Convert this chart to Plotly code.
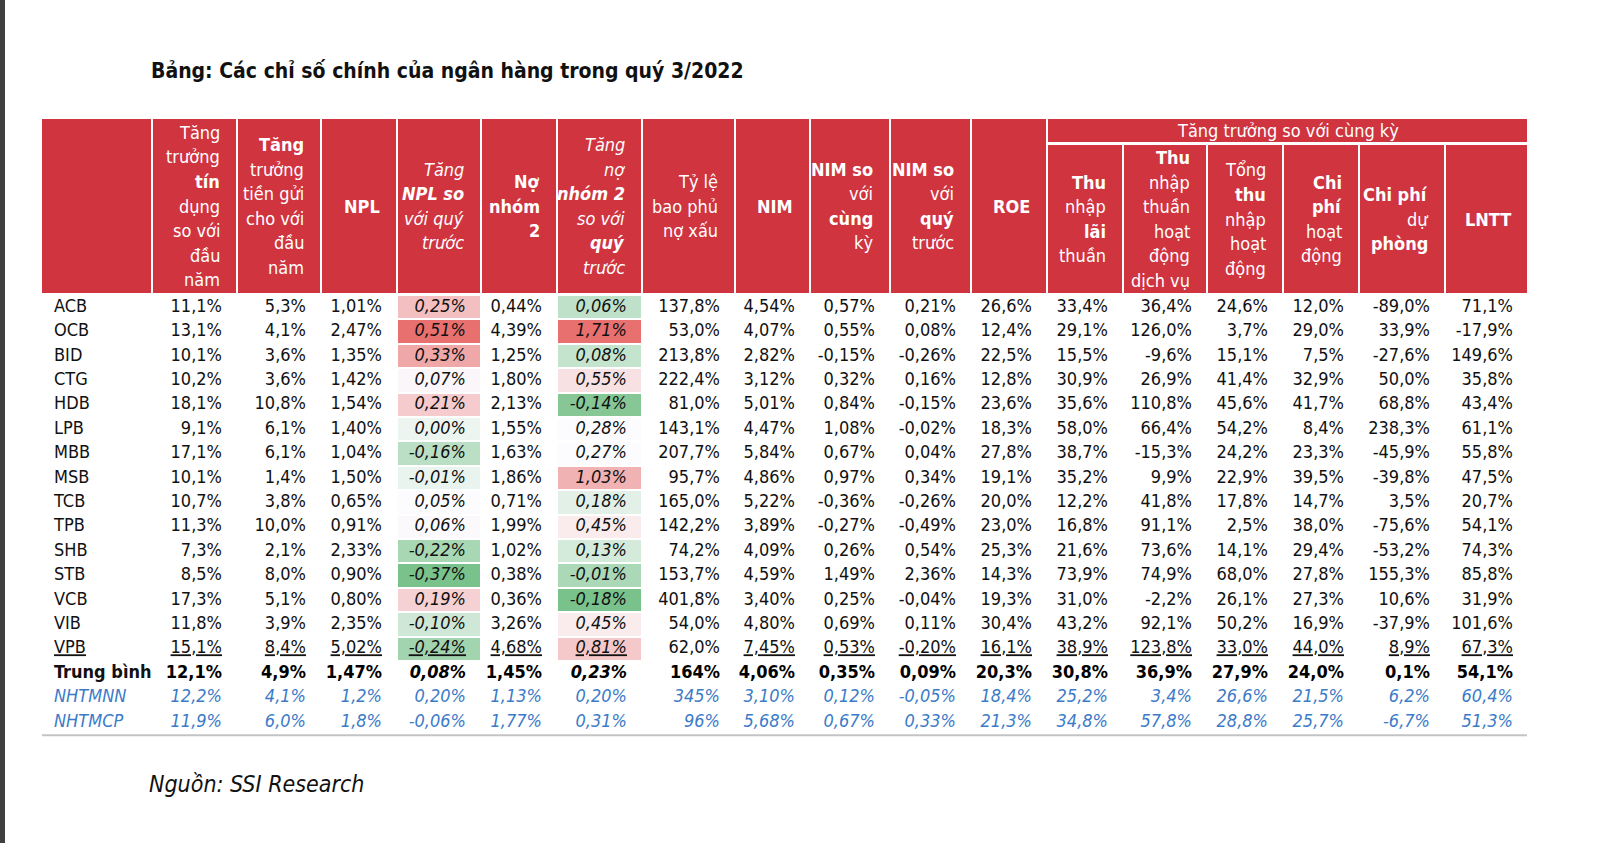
import plotly.graph_objects as go
import numpy as np

# ---------------- DATA ----------------
title = "Bảng: Các chỉ số chính của ngân hàng trong quý 3/2022"
source = "Nguồn: SSI Research"
group_header = "Tăng trưởng so với cùng kỳ"

banks = ["ACB", "OCB", "BID", "CTG", "HDB", "LPB", "MBB", "MSB", "TCB",
         "TPB", "SHB", "STB", "VCB", "VIB", "VPB"]
summary_labels = ["Trung bình", "NHTMNN", "NHTMCP"]

credit_growth = [11.1, 13.1, 10.1, 10.2, 18.1, 9.1, 17.1, 10.1, 10.7, 11.3, 7.3, 8.5, 17.3, 11.8, 15.1]
deposit_growth = [5.3, 4.1, 3.6, 3.6, 10.8, 6.1, 6.1, 1.4, 3.8, 10.0, 2.1, 8.0, 5.1, 3.9, 8.4]
npl = [1.01, 2.47, 1.35, 1.42, 1.54, 1.40, 1.04, 1.50, 0.65, 0.91, 2.33, 0.90, 0.80, 2.35, 5.02]
npl_change = [0.25, 0.51, 0.33, 0.07, 0.21, 0.00, -0.16, -0.01, 0.05, 0.06, -0.22, -0.37, 0.19, -0.10, -0.24]
group2 = [0.44, 4.39, 1.25, 1.80, 2.13, 1.55, 1.63, 1.86, 0.71, 1.99, 1.02, 0.38, 0.36, 3.26, 4.68]
group2_change = [0.06, 1.71, 0.08, 0.55, -0.14, 0.28, 0.27, 1.03, 0.18, 0.45, 0.13, -0.01, -0.18, 0.45, 0.81]
coverage = [137.8, 53.0, 213.8, 222.4, 81.0, 143.1, 207.7, 95.7, 165.0, 142.2, 74.2, 153.7, 401.8, 54.0, 62.0]
nim = [4.54, 4.07, 2.82, 3.12, 5.01, 4.47, 5.84, 4.86, 5.22, 3.89, 4.09, 4.59, 3.40, 4.80, 7.45]
nim_yoy = [0.57, 0.55, -0.15, 0.32, 0.84, 1.08, 0.67, 0.97, -0.36, -0.27, 0.26, 1.49, 0.25, 0.69, 0.53]
nim_qoq = [0.21, 0.08, -0.26, 0.16, -0.15, -0.02, 0.04, 0.34, -0.26, -0.49, 0.54, 2.36, -0.04, 0.11, -0.20]
roe = [26.6, 12.4, 22.5, 12.8, 23.6, 18.3, 27.8, 19.1, 20.0, 23.0, 25.3, 14.3, 19.3, 30.4, 16.1]
nii_growth = [33.4, 29.1, 15.5, 30.9, 35.6, 58.0, 38.7, 35.2, 12.2, 16.8, 21.6, 73.9, 31.0, 43.2, 38.9]
fee_growth = [36.4, 126.0, -9.6, 26.9, 110.8, 66.4, -15.3, 9.9, 41.8, 91.1, 73.6, 74.9, -2.2, 92.1, 123.8]
toi_growth = [24.6, 3.7, 15.1, 41.4, 45.6, 54.2, 24.2, 22.9, 17.8, 2.5, 14.1, 68.0, 26.1, 50.2, 33.0]
opex_growth = [12.0, 29.0, 7.5, 32.9, 41.7, 8.4, 23.3, 39.5, 14.7, 38.0, 29.4, 27.8, 27.3, 16.9, 44.0]
provision_growth = [-89.0, 33.9, -27.6, 50.0, 68.8, 238.3, -45.9, -39.8, 3.5, -75.6, -53.2, 155.3, 10.6, -37.9, 8.9]
pbt_growth = [71.1, -17.9, 149.6, 35.8, 43.4, 61.1, 55.8, 47.5, 20.7, 54.1, 74.3, 85.8, 31.9, 101.6, 67.3]

avg_row = [12.1, 4.9, 1.47, 0.08, 1.45, 0.23, 164, 4.06, 0.35, 0.09, 20.3, 30.8, 36.9, 27.9, 24.0, 0.1, 54.1]
state_row = [12.2, 4.1, 1.2, 0.20, 1.13, 0.20, 345, 3.10, 0.12, -0.05, 18.4, 25.2, 3.4, 26.6, 21.5, 6.2, 60.4]
jsc_row = [11.9, 6.0, 1.8, -0.06, 1.77, 0.31, 96, 5.68, 0.67, 0.33, 21.3, 34.8, 57.8, 28.8, 25.7, -6.7, 51.3]

col_decimals = [1, 1, 2, 2, 2, 2, 1, 2, 2, 2, 1, 1, 1, 1, 1, 1, 1]
summary_decimals = [
    [1, 1, 2, 2, 2, 2, 0, 2, 2, 2, 1, 1, 1, 1, 1, 1, 1],
    [1, 1, 1, 2, 2, 2, 0, 2, 2, 2, 1, 1, 1, 1, 1, 1, 1],
    [1, 1, 1, 2, 2, 2, 0, 2, 2, 2, 1, 1, 1, 1, 1, 1, 1],
]

header_lines = [
    ["Tăng", "trưởng", "<b>tín</b>", "dụng", "so với", "đầu", "năm"],
    ["<b>Tăng</b>", "trưởng", "tiền gửi", "cho với", "đầu", "năm"],
    ["<b>NPL</b>"],
    ["<i>Tăng</i>", "<b><i>NPL so</i></b>", "<i>với quý</i>", "<i>trước</i>"],
    ["<b>Nợ</b>", "<b>nhóm</b>", "<b>2</b>"],
    ["<i>Tăng</i>", "<i>nợ</i>", "<b><i>nhóm 2</i></b>", "<i>so với</i>", "<b><i>quý</i></b>", "<i>trước</i>"],
    ["Tỷ lệ", "bao phủ", "nợ xấu"],
    ["<b>NIM</b>"],
    ["<b>NIM so</b>", "với", "<b>cùng</b>", "kỳ"],
    ["<b>NIM so</b>", "với", "<b>quý</b>", "trước"],
    ["<b>ROE</b>"],
    ["<b>Thu</b>", "nhập", "<b>lãi</b>", "thuần"],
    ["<b>Thu</b>", "nhập", "thuần", "hoạt", "động", "dịch vụ"],
    ["Tổng", "<b>thu</b>", "nhập", "hoạt", "động"],
    ["<b>Chi</b>", "<b>phí</b>", "hoạt", "động"],
    ["<b>Chi phí</b>", "dự", "<b>phòng</b>"],
    ["<b>LNTT</b>"],
]

columns = [credit_growth, deposit_growth, npl, npl_change, group2, group2_change,
           coverage, nim, nim_yoy, nim_qoq, roe, nii_growth, fee_growth,
           toi_growth, opex_growth, provision_growth, pbt_growth]

# ---------------- LAYOUT CONSTANTS ----------------
W, H = 1600, 843
FONT = "'Liberation Sans Narrow', 'DejaVu Sans Condensed', 'Arial Narrow', 'Liberation Sans', sans-serif"
RED = "#CF343F"
BLUE = "#3B7BC8"
edges = [(42, 151), (153, 236), (238, 320), (322, 396), (398, 480), (482, 556),
         (558, 641), (643, 734), (736, 809), (811, 889), (891, 970), (972, 1046),
         (1048, 1122), (1124, 1206), (1208, 1282), (1284, 1358), (1360, 1444), (1446, 1527)]
HEAD_TOP, HEAD_BOT, GROUP_BOT, SUB_TOP = 119, 293, 142, 145
ROW_TOP, ROW_H = 295, 24.4
PAD = 14
LINE_H = 24.6
GROUP_START = 12  # first column index (in edges) under the group header
italic_cols = {3, 5}
no_underline_cols = {6}

n_rows = len(banks) + len(summary_labels)
row_y = [ROW_TOP + ROW_H * (i + 0.5) for i in range(n_rows)]


def fmt(v, d):
    return f"{v:.{d}f}".replace(".", ",") + "%"


fig = go.Figure()

# ----- header shapes -----
shapes = []
for k, (l, r) in enumerate(edges):
    top = SUB_TOP if k >= GROUP_START else HEAD_TOP
    shapes.append(dict(type="rect", xref="x", yref="y", x0=l, x1=r, y0=top, y1=HEAD_BOT,
                       fillcolor=RED, line=dict(width=0), layer="below"))
shapes.append(dict(type="rect", xref="x", yref="y", x0=edges[GROUP_START][0], x1=edges[-1][1],
                   y0=HEAD_TOP, y1=GROUP_BOT, fillcolor=RED, line=dict(width=0), layer="below"))
# bottom rule
shapes.append(dict(type="line", xref="x", yref="y", x0=edges[0][0], x1=edges[-1][1],
                   y0=ROW_TOP + ROW_H * n_rows + 1, y1=ROW_TOP + ROW_H * n_rows + 1,
                   line=dict(color="#C4C4C4", width=2)))
# dark window edge at left
shapes.append(dict(type="rect", xref="paper", yref="paper", x0=0, x1=5 / W, y0=0, y1=1,
                   fillcolor="#3F3F3F", line=dict(width=0)))

# ----- conditional-format heatmap columns -----
for j in sorted(italic_cols):
    vals = np.array(columns[j], dtype=float)
    lo, hi, med = vals.min(), vals.max(), np.median(vals)
    mid = (med - lo) / (hi - lo)
    l, r = edges[j + 1]
    fig.add_trace(go.Heatmap(
        z=[[v] for v in vals], x0=(l + r) / 2, dx=(r - l), y0=row_y[0], dy=ROW_H,
        zmin=lo, zmax=hi, ygap=2,
        colorscale=[[0, "#7AC28B"], [mid, "#FCFCFF"], [1, "#E8706F"]],
        showscale=False, hoverinfo="skip"))

# ----- row labels -----
label_text = banks[:-1] + ["<u>" + banks[-1] + "</u>"] + \
    ["<b>" + summary_labels[0] + "</b>"] + ["<i>" + s + "</i>" for s in summary_labels[1:]]
label_colors = ["#111111"] * (len(banks) + 1) + [BLUE] * 2
fig.add_trace(go.Scatter(
    x=[edges[0][0] + 12] * n_rows, y=row_y, mode="text", text=label_text,
    textposition="middle right", textfont=dict(family=FONT, size=18, color=label_colors),
    hoverinfo="skip", showlegend=False))

# ----- values -----
summary_rows = [avg_row, state_row, jsc_row]
for j, col in enumerate(columns):
    texts, colors = [], []
    for i, v in enumerate(col):
        s = fmt(v, col_decimals[j])
        if j in italic_cols:
            s = "<i>" + s + "</i>"
        if i == len(banks) - 1 and j not in no_underline_cols:
            s = "<u>" + s + "</u>"
        texts.append(s)
        colors.append("#111111")
    for k, srow in enumerate(summary_rows):
        s = fmt(srow[j], summary_decimals[k][j])
        if k == 0:
            s = "<b>" + ("<i>" + s + "</i>" if j in italic_cols else s) + "</b>"
            colors.append("#000000")
        else:
            s = "<i>" + s + "</i>"
            colors.append(BLUE)
        texts.append(s)
    xr = edges[j + 1][1] - PAD
    fig.add_trace(go.Scatter(
        x=[xr] * n_rows, y=row_y, mode="text", text=texts, textposition="middle left",
        textfont=dict(family=FONT, size=18, color=colors),
        hoverinfo="skip", showlegend=False))

# ----- header text -----
annotations = []
for j, lines in enumerate(header_lines):
    k = j + 1
    top = SUB_TOP if k >= GROUP_START else HEAD_TOP
    cy = (top + HEAD_BOT) / 2
    n = len(lines)
    for m, line in enumerate(lines):
        y = cy + (m - (n - 1) / 2) * LINE_H
        annotations.append(dict(x=edges[k][1] - PAD, y=y, xref="x", yref="y", text=line,
                                showarrow=False, xanchor="right", yanchor="middle",
                                font=dict(family=FONT, size=18, color="white")))
annotations.append(dict(x=(edges[GROUP_START][0] + edges[-1][1]) / 2, y=(HEAD_TOP + GROUP_BOT) / 2,
                        xref="x", yref="y", text=group_header, showarrow=False,
                        xanchor="center", yanchor="middle",
                        font=dict(family=FONT, size=18, color="white")))
annotations.append(dict(x=149, y=71, xref="x", yref="y", text="<b>" + title + "</b>",
                        showarrow=False, xanchor="left", yanchor="middle",
                        font=dict(family=FONT, size=21, color="#111111")))
annotations.append(dict(x=147, y=784, xref="x", yref="y", text="<i>" + source + "</i>",
                        showarrow=False, xanchor="left", yanchor="middle",
                        font=dict(family=FONT, size=23, color="#111111")))

fig.update_layout(
    width=W, height=H, autosize=False,
    margin=dict(l=0, r=0, t=0, b=0, pad=0),
    paper_bgcolor="white", plot_bgcolor="white",
    xaxis=dict(range=[0, W], visible=False, fixedrange=True),
    yaxis=dict(range=[H, 0], visible=False, fixedrange=True),
    shapes=shapes, annotations=annotations, showlegend=False,
)

fig.write_html("out.html", config={"displayModeBar": False},
               post_script="document.body.style.margin='0';document.body.style.overflow='hidden';")
